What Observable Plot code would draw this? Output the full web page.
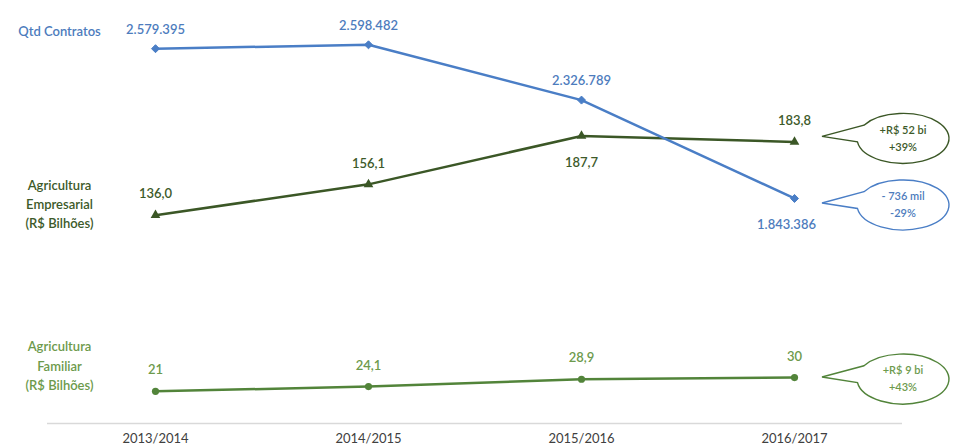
<!DOCTYPE html>
<html><head><meta charset="utf-8">
<script src="https://cdn.jsdelivr.net/npm/d3@7"></script>
<script src="https://cdn.jsdelivr.net/npm/@observablehq/plot@0.6"></script>
<style>
body{margin:0;background:#fff;}
#chart{position:relative;width:955px;height:448px;}
#chart svg{position:absolute;left:0;top:0;}
</style></head><body><div id="chart"></div>
<script>
// ---- data ----
const seasons = ["2013/2014", "2014/2015", "2015/2016", "2016/2017"];
const contratos = [2579395, 2598482, 2326789, 1843386];
const empresarial = [136.0, 156.1, 187.7, 183.8];
const familiar = [21, 24.1, 28.9, 30];
const seriesNames = ["Qtd Contratos", "Agricultura\nEmpresarial\n(R$ Bilhões)", "Agricultura\nFamiliar\n(R$ Bilhões)"];
const calloutEmpresarial = ["+R$ 52 bi", "+39%"];
const calloutContratos = ["- 736 mil", "-29%"];
const calloutFamiliar = ["+R$ 9 bi", "+43%"];

// ---- styles ----
const BLUE = "#4a7ec6", BLUE_TXT = "#4d7cbd";
const DGREEN = "#3b5726", DGREEN_TXT = "#3d5a2a";
const LGREEN = "#52843a", LGREEN_TXT = "#6d9a4c";
const FONT = "Lato, 'Open Sans', sans-serif";

const pt = d3.formatLocale({decimal: ",", thousands: ".", grouping: [3], currency: ["R$ ", ""]});
const fmtInt = pt.format(",d");
const fmt1 = pt.format(".1f");
const fmtTrim = pt.format("~f");

const contratosData = seasons.map((s, i) => ({season: s, v: contratos[i]}));
const empData = seasons.map((s, i) => ({season: s, v: empresarial[i]}));
const famData = seasons.map((s, i) => ({season: s, v: familiar[i]}));

const common = {
  width: 955, height: 448,
  marginLeft: 47, marginRight: 53, marginTop: 40, marginBottom: 25
};

function callout(datum, lines, color, txtColor, dyc) {
  return (index, scales) => {
    const x0 = scales.x(datum.season), y0 = scales.y(datum.v);
    const cx = x0 + 109, cy = y0 + dyc, rx = 46, ry = 25;
    const a1 = -148 * Math.PI / 180, a2 = 172 * Math.PI / 180;
    const A = [cx + rx * Math.cos(a1), cy + ry * Math.sin(a1)];
    const B = [cx + rx * Math.cos(a2), cy + ry * Math.sin(a2)];
    const tip = [x0 + 28, cy - 2];
    const g = d3.create("svg:g");
    g.append("path")
      .attr("d", `M${A}A${rx},${ry} 0 1 1 ${B}L${tip}Z`)
      .attr("fill", "white").attr("stroke", color).attr("stroke-width", 1.4);
    g.selectAll("text").data(lines).join("text")
      .attr("x", cx).attr("y", (d, i) => cy + (i - 0.5) * 17)
      .attr("dy", "0.35em").attr("text-anchor", "middle")
      .attr("font-size", 11).attr("font-weight", 600)
      .attr("fill", txtColor).attr("font-family", FONT)
      .text(d => d);
    return g.node();
  };
}

// ---- green plot (primary axis, R$ bilhões) ----
const greenPlot = Plot.plot({
  ...common,
  style: {fontFamily: FONT, fontSize: "13px", color: "#404040", background: "transparent", overflow: "visible"},
  x: {type: "point", domain: seasons, padding: 0.5, tickSize: 0, tickPadding: 10, label: null},
  y: {domain: [0, 250], axis: null},
  marks: [
    Plot.ruleY([0], {stroke: "#d9d9d9", strokeWidth: 1.5}),
    Plot.line(empData, {x: "season", y: "v", stroke: DGREEN, strokeWidth: 2.5}),
    Plot.dot(empData, {x: "season", y: "v", symbol: "triangle", r: 3.6, fill: DGREEN}),
    Plot.text(empData, {filter: (d, i) => i !== 2, x: "season", y: "v", text: d => fmt1(d.v), dy: -21, fill: DGREEN_TXT, fontWeight: 600}),
    Plot.text(empData, {filter: (d, i) => i === 2, x: "season", y: "v", text: d => fmt1(d.v), dy: 27, fill: DGREEN_TXT, fontWeight: 600}),
    Plot.text([empData[0]], {x: "season", y: "v", text: () => seriesNames[1], dx: -96, dy: -12, lineHeight: 1.45, fill: DGREEN_TXT, fontWeight: 600}),
    Plot.line(famData, {x: "season", y: "v", stroke: LGREEN, strokeWidth: 2.5}),
    Plot.dot(famData, {x: "season", y: "v", symbol: "circle", r: 3.6, fill: LGREEN}),
    Plot.text(famData, {x: "season", y: "v", text: d => fmtTrim(d.v), dy: -21, fill: LGREEN_TXT, fontWeight: 600}),
    Plot.text([famData[0]], {x: "season", y: "v", text: () => seriesNames[2], dx: -96, dy: -27, lineHeight: 1.5, fill: LGREEN_TXT, fontWeight: 600}),
    callout(empData[3], calloutEmpresarial, DGREEN, DGREEN_TXT, -3),
    callout(famData[3], calloutFamiliar, LGREEN, LGREEN_TXT, 2)
  ]
});

// ---- blue plot (secondary axis, contratos) ----
const bluePlot = Plot.plot({
  ...common,
  style: {fontFamily: FONT, fontSize: "13px", background: "transparent", overflow: "visible"},
  x: {type: "point", domain: seasons, padding: 0.5, axis: null},
  y: {domain: [737500, 2619600], axis: null},
  marks: [
    Plot.line(contratosData, {x: "season", y: "v", stroke: BLUE, strokeWidth: 2.5}),
    Plot.dot(contratosData, {x: "season", y: "v", symbol: "diamond2", r: 3.6, fill: BLUE, stroke: BLUE, strokeWidth: 1}),
    Plot.text(contratosData, {filter: (d, i) => i !== 3, x: "season", y: "v", text: d => fmtInt(d.v), dy: -19, fill: BLUE_TXT, fontWeight: 600}),
    Plot.text(contratosData, {filter: (d, i) => i === 3, x: "season", y: "v", text: d => fmtInt(d.v), dx: -8, dy: 26, fill: BLUE_TXT, fontWeight: 600}),
    Plot.text([contratosData[0]], {x: "season", y: "v", text: () => seriesNames[0], dx: -96, dy: -17, fill: BLUE_TXT, fontWeight: 600}),
    callout(contratosData[3], calloutContratos, BLUE, BLUE_TXT, 7)
  ]
});

const chart = document.getElementById("chart");
chart.appendChild(greenPlot);
chart.appendChild(bluePlot);
</script>
</body></html>
